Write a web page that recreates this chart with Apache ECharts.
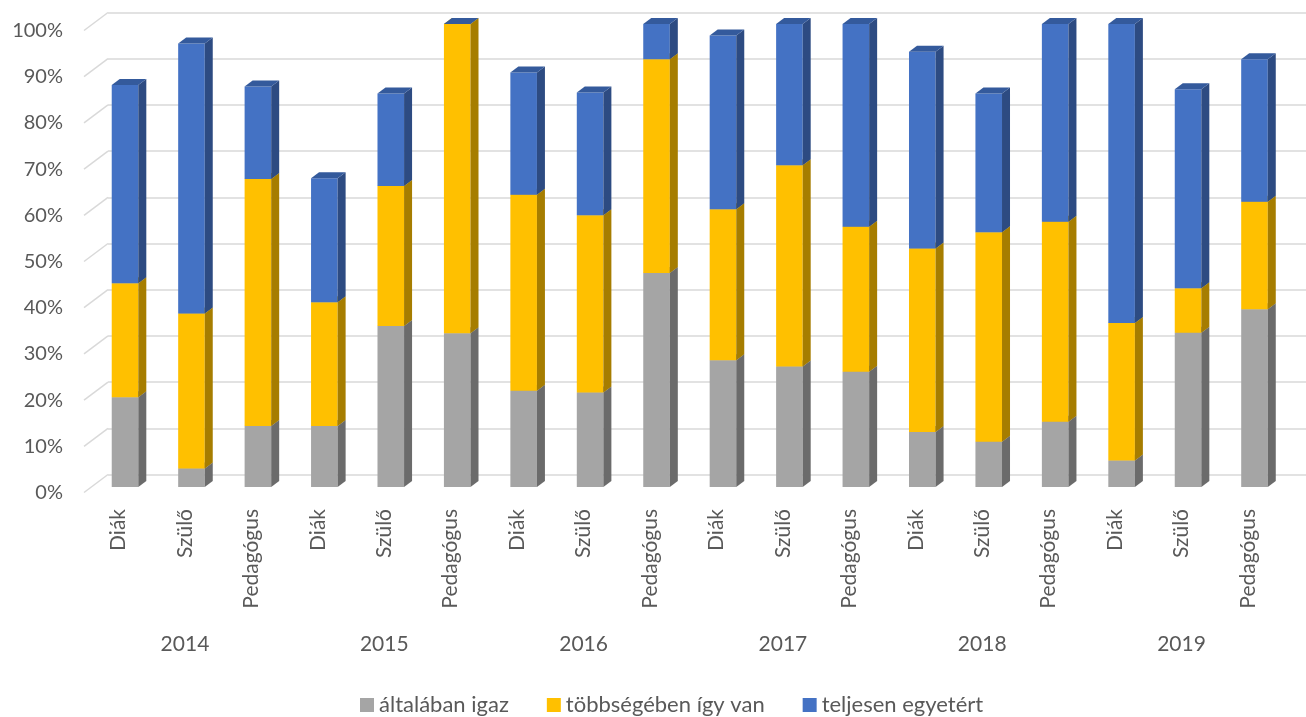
<!DOCTYPE html>
<html>
<head>
<meta charset="utf-8">
<title>Válaszok megoszlása 2014–2019</title>
<script src="https://cdn.jsdelivr.net/npm/echarts@6/dist/echarts.min.js"></script>
<style>
  html, body { margin: 0; padding: 0; background: #ffffff; }
  #chart { width: 1306px; height: 717px; }
</style>
</head>
<body>
<div id="chart"></div>
<script>
// Respondent groups per survey year
const categories = [
  'Diák', 'Szülő', 'Pedagógus',
  'Diák', 'Szülő', 'Pedagógus',
  'Diák', 'Szülő', 'Pedagógus',
  'Diák', 'Szülő', 'Pedagógus',
  'Diák', 'Szülő', 'Pedagógus',
  'Diák', 'Szülő', 'Pedagógus'
];
const years = ['2014', '2015', '2016', '2017', '2018', '2019'];
const seriesNames = ['általában igaz', 'többségében így van', 'teljesen egyetért'];

// Shares of answers (%)
const generallyTrue = [19.4, 4.0, 13.2, 13.2, 34.8, 33.2, 20.8, 20.4, 46.2, 27.4, 26.0, 24.9, 11.9, 9.8, 14.1, 5.7, 33.3, 38.4];
const mostlyTrue    = [24.6, 33.5, 53.3, 26.7, 30.2, 66.8, 42.3, 38.3, 46.2, 32.6, 43.5, 31.3, 39.6, 45.2, 43.2, 29.7, 9.6, 23.2];
const fullyAgree    = [42.8, 58.3, 20.0, 26.8, 20.0, 0.0, 26.4, 26.5, 7.6, 37.5, 30.5, 43.8, 42.5, 30.0, 42.7, 64.6, 43.0, 30.8];

// Value axis ticks (%)
const percentTicks = [0, 10, 20, 30, 40, 50, 60, 70, 80, 90, 100];

const FONT = 'Lato, "Open Sans", sans-serif';
const TEXT_COLOR = '#595959';
const GRID_COLOR = '#d9d9d9';

// Face colours of the pseudo-3D columns: front, side, top
const palettes = [
  { front: '#a5a5a5', side: '#6b6b6b', top: '#8c8c8c' },
  { front: '#ffc000', side: '#a67d00', top: '#c99a00' },
  { front: '#4472c4', side: '#2d4b82', top: '#345a9c' }
];

// Stack the series on top of each other: [category, base, value]
const stacks = [generallyTrue, mostlyTrue, fullyAgree];
const stackedData = stacks.map((values, s) =>
  values.map((v, i) => {
    let base = 0;
    for (let k = 0; k < s; k++) base += stacks[k][i];
    return [i, base, v];
  })
);

const DEPTH_X = 8, DEPTH_Y = -6;

function columnRenderer(pal) {
  return function (params, api) {
    const idx = api.value(0);
    const base = api.value(1);
    const val = api.value(2);
    const p0 = api.coord([idx, base]);
    const p1 = api.coord([idx, base + val]);
    const band = api.size([1, 0])[0];
    const w = band * 0.4;
    const x = p0[0] - w / 2;
    const yb = p0[1], yt = p1[1];
    return {
      type: 'group',
      children: [
        {
          type: 'rect',
          shape: { x: x, y: yt, width: w, height: yb - yt },
          style: { fill: pal.front }
        },
        {
          type: 'polygon',
          shape: { points: [[x + w, yb], [x + w, yt], [x + w + DEPTH_X, yt + DEPTH_Y], [x + w + DEPTH_X, yb + DEPTH_Y]] },
          style: { fill: pal.side }
        },
        {
          type: 'polygon',
          shape: { points: [[x, yt], [x + w, yt], [x + w + DEPTH_X, yt + DEPTH_Y], [x + DEPTH_X, yt + DEPTH_Y]] },
          style: { fill: pal.top }
        }
      ]
    };
  };
}

// Slanted side-wall segments of the gridlines
function wallRenderer(params, api) {
  const p = api.coord([0, api.value(1)]);
  return {
    type: 'line',
    shape: { x1: p[0], y1: p[1], x2: p[0] - 24, y2: p[1] + 18 },
    style: { stroke: GRID_COLOR, lineWidth: 1.5 }
  };
}

const option = {
  backgroundColor: '#ffffff',
  animation: false,
  textStyle: { fontFamily: FONT },
  grid: [
    // 0: columns
    { left: 91.8, right: 18.3, top: 24, height: 463 },
    // 1: group labels
    { left: 85.3, right: 24.8, top: 24, height: 476 },
    // 2: back wall with gridlines
    { left: 108, right: 0, top: 12.5, height: 462 },
    // 3: front edge carrying the percent labels
    { left: 84, right: 0, top: 30.5, height: 462 },
    // 4: year labels
    { left: 85.3, right: 24.8, top: 24, height: 596 }
  ],
  xAxis: [
    { gridIndex: 0, type: 'category', data: categories, show: false },
    {
      gridIndex: 1, type: 'category', data: categories,
      axisLine: { show: false }, axisTick: { show: false }, splitLine: { show: false },
      axisLabel: { interval: 0, rotate: 90, margin: 9, fontSize: 21, color: TEXT_COLOR, fontFamily: FONT }
    },
    { gridIndex: 2, type: 'value', min: 0, max: 1, show: false },
    { gridIndex: 3, type: 'value', min: 0, max: 1, show: false },
    {
      gridIndex: 4, type: 'category', data: years,
      axisLine: { show: false }, axisTick: { show: false }, splitLine: { show: false },
      axisLabel: { interval: 0, margin: 14, fontSize: 21, color: TEXT_COLOR, fontFamily: FONT }
    }
  ],
  yAxis: [
    { gridIndex: 0, type: 'value', min: 0, max: 100, show: false },
    { gridIndex: 1, type: 'value', min: 0, max: 100, show: false },
    {
      gridIndex: 2, type: 'value', min: 0, max: 100, interval: 10,
      axisLine: { show: false }, axisTick: { show: false }, axisLabel: { show: false },
      splitLine: { show: true, lineStyle: { color: GRID_COLOR, width: 1.5 } }
    },
    {
      gridIndex: 3, type: 'value', min: 0, max: 100, interval: 10,
      axisLine: { show: false }, axisTick: { show: false }, splitLine: { show: false },
      axisLabel: { margin: 21, fontSize: 20, color: TEXT_COLOR, fontFamily: FONT, formatter: '{value}%' }
    },
    { gridIndex: 4, type: 'value', min: 0, max: 100, show: false }
  ],
  legend: {
    left: 355,
    top: 689,
    icon: 'rect',
    itemWidth: 14,
    itemHeight: 14,
    itemGap: 38,
    textStyle: { fontSize: 22, color: TEXT_COLOR, fontFamily: FONT },
    data: seriesNames
  },
  series: [
    {
      type: 'custom',
      name: 'wall',
      xAxisIndex: 2,
      yAxisIndex: 2,
      z: 1,
      silent: true,
      renderItem: wallRenderer,
      data: percentTicks.map(v => [0, v])
    },
    ...stackedData.map((data, s) => ({
      type: 'custom',
      name: seriesNames[s],
      xAxisIndex: 0,
      yAxisIndex: 0,
      z: 2 + s,
      itemStyle: { color: palettes[s].front },
      renderItem: columnRenderer(palettes[s]),
      encode: { x: 0, y: [1, 2] },
      data: data
    }))
  ]
};

const chart = echarts.init(document.getElementById('chart'), null, { renderer: 'canvas' });
chart.setOption(option);
</script>
</body>
</html>
